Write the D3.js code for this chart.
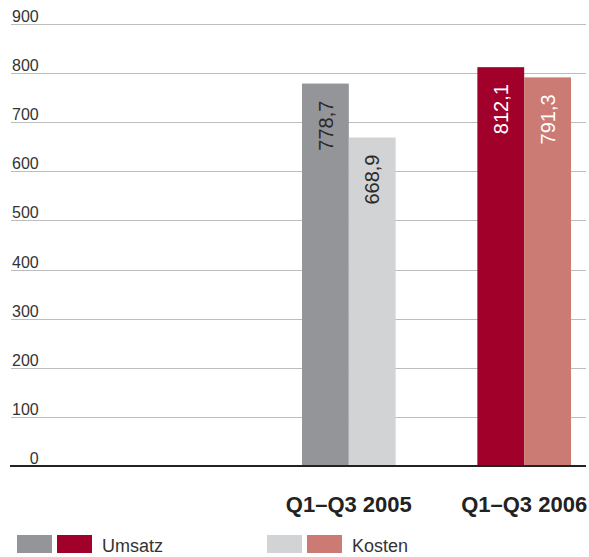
<!DOCTYPE html>
<html>
<head>
<meta charset="utf-8">
<script src="https://cdn.jsdelivr.net/npm/d3@7"></script>
<style>
    body { margin: 0; background: #fff; }
    svg text { font-family: "Liberation Sans", Arial, sans-serif; }
</style>
</head>
<body>
<div id="chart"></div>
<script>
// Umsatz und Kosten, jeweils Q1-Q3
var periods = ["Q1–Q3 2005", "Q1–Q3 2006"]
var series = ["Umsatz", "Kosten"]
var umsatz = [778.7, 812.1]
var kosten = [668.9, 791.3]
var yTicks = [0, 100, 200, 300, 400, 500, 600, 700, 800, 900]

// each year has its own pair of colours
var colors = {
    "Q1–Q3 2005": {"Umsatz": "#939598", "Kosten": "#d1d3d4"},
    "Q1–Q3 2006": {"Umsatz": "#a1002b", "Kosten": "#cb7a74"}
}
var labelColors = {
    "Q1–Q3 2005": "#2a2a2a",
    "Q1–Q3 2006": "#ffffff"
}

var width = 589, height = 557

var de = d3.formatLocale({decimal: ",", thousands: ".", grouping: [3], currency: ["", " €"]})
var fmt = de.format(".1f")

var svg = d3.select("#chart").append("svg")
    .attr("width", width)
    .attr("height", height)

var y = d3.scaleLinear().domain([0, 900]).range([466, 24])

var x0 = d3.scaleBand().domain(periods).range([302, 571]).paddingInner(0.466).paddingOuter(0)
var x1 = d3.scaleBand().domain(series).range([0, x0.bandwidth()])

// grid lines + tick labels (numbers padded with figure spaces)
var grid = svg.append("g")
grid.selectAll("line")
    .data(yTicks.filter(function (d) { return d > 0 }))
    .enter().append("line")
    .attr("x1", 11)
    .attr("x2", 586)
    .attr("y1", function (d) { return Math.round(y(d)) + 0.5 })
    .attr("y2", function (d) { return Math.round(y(d)) + 0.5 })
    .attr("stroke", "#bdbdbd")
    .attr("stroke-width", 1)

grid.selectAll("text")
    .data(yTicks)
    .enter().append("text")
    .attr("x", 12)
    .attr("y", function (d) { return y(d) - 2 })
    .attr("font-size", "16px")
    .attr("fill", "#333")
    .text(function (d) {
        var s = String(d)
        while (s.length < 3) s = "\u2007" + s
        return s
    })

var rows = []
periods.forEach(function (p, i) {
    rows.push({period: p, key: "Umsatz", value: umsatz[i]})
    rows.push({period: p, key: "Kosten", value: kosten[i]})
})

var bars = svg.append("g")
bars.selectAll("rect")
    .data(rows)
    .enter().append("rect")
    .attr("x", function (d) { return x0(d.period) + x1(d.key) })
    .attr("y", function (d) { return y(d.value) })
    .attr("width", x1.bandwidth())
    .attr("height", function (d) { return y(0) - y(d.value) })
    .attr("fill", function (d) { return colors[d.period][d.key] })

// value labels, rotated, reading upwards
bars.selectAll("text")
    .data(rows)
    .enter().append("text")
    .attr("transform", function (d) {
        var cx = x0(d.period) + x1(d.key) + x1.bandwidth() / 2
        return "translate(" + cx + "," + (y(d.value) + 17) + ") rotate(-90)"
    })
    .attr("text-anchor", "end")
    .attr("dy", "0.36em")
    .attr("font-size", "20px")
    .attr("fill", function (d) { return labelColors[d.period] })
    .text(function (d) { return fmt(d.value) })

// baseline
svg.append("line")
    .attr("x1", 10)
    .attr("x2", 586)
    .attr("y1", y(0))
    .attr("y2", y(0))
    .attr("stroke", "#222")
    .attr("stroke-width", 2)

svg.append("g").selectAll("text")
    .data(periods)
    .enter().append("text")
    .attr("x", function (d) { return x0(d) + x0.bandwidth() / 2 })
    .attr("y", 512)
    .attr("text-anchor", "middle")
    .attr("font-size", "22px")
    .attr("font-weight", "bold")
    .attr("fill", "#222")
    .text(function (d) { return d })

// legend: one swatch per year for each series
var legendX = {"Umsatz": 17, "Kosten": 267}
var legend = svg.append("g")
series.forEach(function (s) {
    periods.forEach(function (p, i) {
        legend.append("rect")
            .attr("x", legendX[s] + i * 40)
            .attr("y", 535)
            .attr("width", 35)
            .attr("height", 18)
            .attr("fill", colors[p][s])
    })
    legend.append("text")
        .attr("x", legendX[s] + 85)
        .attr("y", 552)
        .attr("font-size", "18px")
        .attr("fill", "#333")
        .text(s)
})
</script>
</body>
</html>
